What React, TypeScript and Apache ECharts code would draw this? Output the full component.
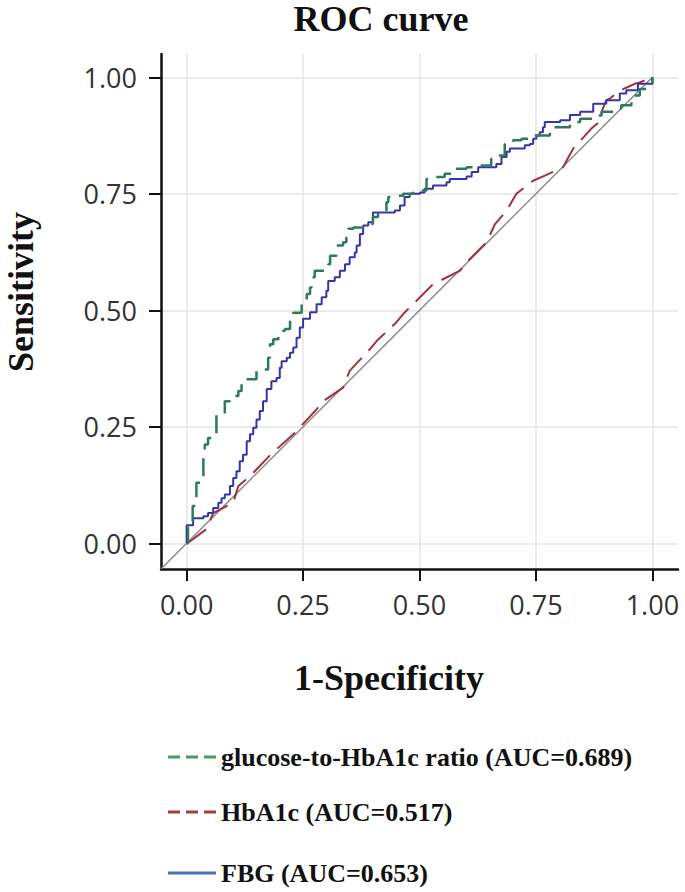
import React, { useEffect, useRef } from "react";
import * as echarts from "echarts";

const xTicks = [0, 0.25, 0.5, 0.75, 1];
const yTicks = [0, 0.25, 0.5, 0.75, 1];

const seriesNames = [
  "glucose-to-HbA1c ratio (AUC=0.689)",
  "HbA1c (AUC=0.517)",
  "FBG (AUC=0.653)",
];

// [1-specificity, sensitivity]
const ratioPoints: [number, number][] = [
  [0, 0], [0.003, 0.033], [0.013, 0.047], [0.013, 0.08], [0.021, 0.108], [0.021, 0.13],
  [0.036, 0.155], [0.036, 0.183], [0.039, 0.212], [0.046, 0.226], [0.054, 0.23], [0.064, 0.259],
  [0.064, 0.277], [0.082, 0.305], [0.093, 0.309], [0.104, 0.316], [0.111, 0.327], [0.118, 0.345],
  [0.121, 0.352], [0.15, 0.37], [0.157, 0.373], [0.175, 0.398], [0.179, 0.427], [0.186, 0.438],
  [0.197, 0.445], [0.207, 0.456], [0.211, 0.46], [0.222, 0.488], [0.229, 0.495], [0.247, 0.52],
  [0.258, 0.535], [0.265, 0.549], [0.268, 0.571], [0.275, 0.585], [0.304, 0.599], [0.308, 0.617],
  [0.322, 0.639], [0.336, 0.646], [0.343, 0.657], [0.347, 0.675], [0.358, 0.678], [0.379, 0.685],
  [0.4, 0.7], [0.411, 0.707], [0.429, 0.732], [0.433, 0.743], [0.447, 0.746], [0.465, 0.75],
  [0.486, 0.757], [0.515, 0.782], [0.522, 0.786], [0.554, 0.793], [0.572, 0.804], [0.601, 0.807],
  [0.622, 0.811], [0.654, 0.825], [0.662, 0.832], [0.683, 0.857], [0.701, 0.865], [0.719, 0.868],
  [0.744, 0.875], [0.78, 0.893], [0.794, 0.893], [0.823, 0.904], [0.845, 0.911], [0.873, 0.918],
  [0.891, 0.926], [0.926, 0.933], [0.933, 0.94], [0.955, 0.961], [0.973, 0.975], [0.987, 0.986],
  [1, 1],
];

const hba1cPoints: [number, number][] = [
  [0, 0], [0.007, 0.004], [0.043, 0.031], [0.057, 0.065], [0.1, 0.087], [0.111, 0.123],
  [0.136, 0.144], [0.18, 0.19], [0.232, 0.237], [0.276, 0.284], [0.293, 0.305], [0.336, 0.334],
  [0.35, 0.37], [0.39, 0.413], [0.408, 0.434], [0.45, 0.474], [0.465, 0.492], [0.508, 0.535],
  [0.529, 0.556], [0.587, 0.585], [0.601, 0.603], [0.644, 0.646], [0.662, 0.685], [0.687, 0.714],
  [0.708, 0.75], [0.744, 0.778], [0.769, 0.789], [0.808, 0.807], [0.83, 0.847], [0.869, 0.89],
  [0.887, 0.905], [0.891, 0.926], [0.901, 0.951], [0.908, 0.954], [0.926, 0.968], [0.94, 0.976],
  [0.962, 0.986], [0.973, 0.989], [1, 1],
];

const fbgPoints: [number, number][] = [
  [0, 0], [0, 0.039], [0.014, 0.039], [0.014, 0.054], [0.036, 0.058], [0.046, 0.065],
  [0.057, 0.076], [0.068, 0.087], [0.075, 0.097], [0.082, 0.105], [0.093, 0.123], [0.1, 0.14],
  [0.107, 0.155], [0.114, 0.176], [0.121, 0.19], [0.129, 0.219], [0.136, 0.234], [0.143, 0.248],
  [0.15, 0.266], [0.157, 0.284], [0.164, 0.305], [0.172, 0.331], [0.182, 0.348], [0.193, 0.355],
  [0.2, 0.377], [0.204, 0.391], [0.215, 0.398], [0.222, 0.409], [0.229, 0.42], [0.236, 0.441],
  [0.243, 0.463], [0.25, 0.482], [0.265, 0.496], [0.279, 0.513], [0.29, 0.528], [0.3, 0.542],
  [0.304, 0.563], [0.318, 0.571], [0.329, 0.585], [0.34, 0.599], [0.35, 0.614], [0.361, 0.624],
  [0.365, 0.639], [0.372, 0.664], [0.379, 0.682], [0.39, 0.689], [0.4, 0.71], [0.447, 0.714],
  [0.458, 0.725], [0.468, 0.743], [0.479, 0.75], [0.501, 0.753], [0.511, 0.761], [0.529, 0.768],
  [0.558, 0.775], [0.565, 0.782], [0.601, 0.787], [0.612, 0.797], [0.626, 0.807], [0.662, 0.807],
  [0.665, 0.814], [0.676, 0.829], [0.687, 0.84], [0.694, 0.847], [0.726, 0.854], [0.737, 0.857],
  [0.744, 0.868], [0.751, 0.875], [0.758, 0.882], [0.765, 0.893], [0.769, 0.904], [0.802, 0.908],
  [0.823, 0.919], [0.845, 0.926], [0.873, 0.943], [0.901, 0.951], [0.926, 0.951], [0.93, 0.965],
  [0.944, 0.972], [0.969, 0.986], [1, 1],
];

const diagonalPoints: [number, number][] = [[-0.055, -0.055], [1, 1]];

const serif = '"Liberation Serif", "Times New Roman", serif';
const sans = '"Open Sans", "DejaVu Sans", sans-serif';

export default function App() {
  const ref = useRef<HTMLDivElement>(null);
  useEffect(() => {
    if (!ref.current) return;
    const chart = echarts.init(ref.current, undefined, { renderer: "svg" });
    const legendText = {
      fontFamily: serif,
      fontWeight: "bold" as const,
      fontSize: 26,
      color: "#111",
      lineHeight: 30,
    };
    const hidden = { color: "transparent", borderWidth: 0, opacity: 0 };
    const legendBase = {
      left: 168,
      padding: 0,
      itemWidth: 48,
      itemHeight: 14,
      selectedMode: false,
      textStyle: legendText,
    };
    const legendRowsY = [757, 812, 873];
    const legendIconStyles = [
      { stroke: "#4e9a5f", lineWidth: 3, lineDash: [12, 6] },
      { stroke: "#a0403e", lineWidth: 3, lineDash: [12, 6] },
      { stroke: "#4a6fc0", lineWidth: 3 },
    ];
    chart.setOption({
      animation: false,
      backgroundColor: "#ffffff",
      grid: { left: 161, right: 7, top: 54, bottom: 323, containLabel: false },
      xAxis: {
        type: "value",
        min: -0.055,
        max: 1.055,
        axisLine: { show: true, onZero: false, lineStyle: { color: "#111", width: 2.5 } },
        axisTick: { show: true, length: 12, customValues: xTicks, lineStyle: { color: "#111", width: 2 } },
        axisLabel: {
          customValues: xTicks,
          formatter: (v: number) => v.toFixed(2),
          fontFamily: sans,
          fontSize: 27,
          color: "#333",
          margin: 22,
        },
        splitLine: { show: true, lineStyle: { color: "#e4e4e4", width: 1.5 } },
      },
      yAxis: {
        type: "value",
        min: -0.055,
        max: 1.05,
        axisLine: { show: true, onZero: false, lineStyle: { color: "#111", width: 2.5 } },
        axisTick: { show: true, length: 12, customValues: yTicks, lineStyle: { color: "#111", width: 2 } },
        axisLabel: {
          customValues: yTicks,
          formatter: (v: number) => v.toFixed(2),
          fontFamily: sans,
          fontSize: 27,
          color: "#333",
          margin: 24,
        },
        splitLine: { show: true, lineStyle: { color: "#e4e4e4", width: 1.5 } },
      },
      legend: seriesNames.map((name, i) => ({
        ...legendBase,
        top: legendRowsY[i] - 15,
        data: [{ name, itemStyle: hidden, lineStyle: { color: "transparent", width: 0, opacity: 0 } }],
      })),
      graphic: [
        ...legendIconStyles.map((style, i) => ({
          type: "line",
          silent: true,
          shape: { x1: 168, y1: legendRowsY[i], x2: 216, y2: legendRowsY[i] },
          style,
        })),
        {
          type: "text",
          x: 381,
          y: 19,
          style: { text: "ROC curve", font: `bold 36px ${serif}`, fill: "#111", align: "center", verticalAlign: "middle" },
        },
        {
          type: "text",
          x: 389,
          y: 678,
          style: { text: "1-Specificity", font: `bold 36px ${serif}`, fill: "#111", align: "center", verticalAlign: "middle" },
        },
        {
          type: "text",
          x: 21,
          y: 292,
          rotation: Math.PI / 2,
          style: { text: "Sensitivity", font: `bold 36px ${serif}`, fill: "#111", align: "center", verticalAlign: "middle" },
        },
      ],
      series: [
        {
          type: "line",
          data: diagonalPoints,
          symbol: "none",
          silent: true,
          z: 1,
          lineStyle: { color: "#8a8a8a", width: 1.5 },
        },
        {
          name: seriesNames[1],
          type: "line",
          data: hba1cPoints,
          symbol: "none",
          z: 2,
          lineStyle: { color: "#a3303f", width: 2, type: [24, 10] },
        },
        {
          name: seriesNames[2],
          type: "line",
          data: fbgPoints,
          symbol: "none",
          step: "end",
          z: 3,
          lineStyle: { color: "#3535aa", width: 2 },
        },
        {
          name: seriesNames[0],
          type: "line",
          data: ratioPoints,
          symbol: "none",
          step: "end",
          z: 4,
          lineStyle: { color: "#2f7a5c", width: 2.5, type: [18, 10] },
        },
      ],
    });
    return () => chart.dispose();
  }, []);
  return (
    <div
      ref={ref}
      style={{ position: "fixed", left: 0, top: 0, width: 685, height: 892, background: "#fff" }}
    />
  );
}
